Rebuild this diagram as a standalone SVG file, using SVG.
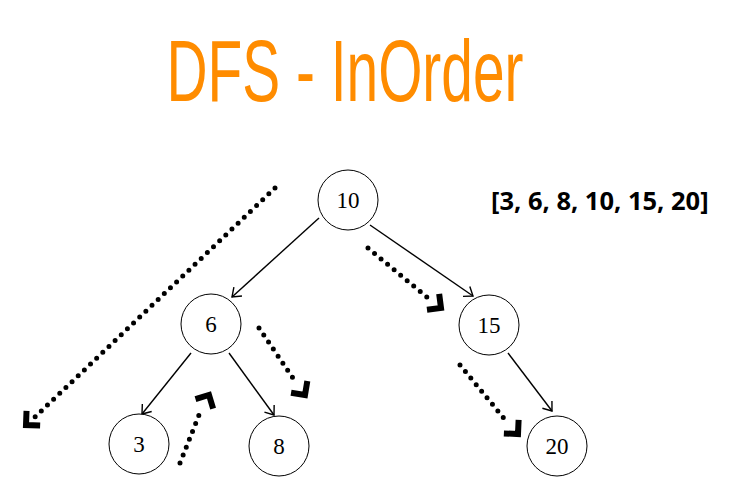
<svg xmlns="http://www.w3.org/2000/svg" width="736" height="486" viewBox="0 0 736 486">
<defs>
<marker id="thin" markerUnits="userSpaceOnUse" markerWidth="20" markerHeight="20" refX="0" refY="0" viewBox="-12 -10 14 20" orient="auto">
<path d="M -8 -6 L 0 0 L -8 6" fill="none" stroke="#000" stroke-width="1.4"/>
</marker>
<marker id="thick" markerUnits="userSpaceOnUse" markerWidth="30" markerHeight="30" refX="0" refY="0" viewBox="-15 -15 30 30" orient="auto">
<path d="M -10 -10 L 0 0 L -10 10" fill="none" stroke="#000" stroke-width="6" stroke-linejoin="miter"/>
</marker>
</defs>
<style>
.node circle{fill:#fff;stroke:#000;stroke-width:1}
.node text{font-family:"Liberation Serif","DejaVu Serif",serif;font-size:23px;fill:#000;text-anchor:middle}
.edge{stroke:#000;stroke-width:1.4;fill:none;marker-end:url(#thin)}
.dot{stroke:#000;stroke-width:5;stroke-dasharray:0 8.5;stroke-linecap:round;fill:none}
.head{marker-end:url(#thick)}
</style>
<rect width="736" height="486" fill="#fff"/>
<text x="0" y="0" transform="translate(345,101) scale(0.646,1)" text-anchor="middle" font-family="'Liberation Sans',sans-serif" font-size="88" fill="#FF8C00">DFS - InOrder</text>
<text x="491" y="210" font-family="'Open Sans',sans-serif" font-weight="bold" font-size="25.5" fill="#000">[3, 6, 8, 10, 15, 20]</text>
<g id="connectors">
<line class="edge" x1="319" y1="218" x2="232" y2="297"/>
<line class="edge" x1="370" y1="225" x2="473" y2="296"/>
<line class="edge" x1="191" y1="353" x2="142" y2="414"/>
<line class="edge" x1="229" y1="353" x2="274" y2="415"/>
<line class="edge" x1="508" y1="353" x2="552" y2="411"/>
<line class="dot" x1="275" y1="188" x2="35" y2="417"/>
<line class="head" x1="40" y1="412" x2="26" y2="425" stroke="none"/>
<line class="dot" x1="368" y1="248" x2="428" y2="298"/>
<line class="head" x1="428" y1="298" x2="441" y2="308" stroke="none"/>
<line class="dot" x1="259" y1="328" x2="295" y2="381"/>
<line class="head" x1="295" y1="381" x2="305" y2="395" stroke="none"/>
<line class="dot" x1="180" y1="463" x2="201" y2="410"/>
<line class="head" x1="201" y1="410" x2="209" y2="395" stroke="none"/>
<line class="dot" x1="460" y1="365" x2="507" y2="422"/>
<line class="head" x1="507" y1="422" x2="518" y2="434" stroke="none"/>
</g>
<g id="n10" class="node"><circle cx="348" cy="200" r="30"/><text x="348" y="208">10</text></g>
<g id="n6" class="node"><circle cx="211" cy="324" r="30"/><text x="211" y="332">6</text></g>
<g id="n15" class="node"><circle cx="489" cy="325" r="30"/><text x="489" y="333">15</text></g>
<g id="n3" class="node"><circle cx="139" cy="444" r="30"/><text x="139" y="452">3</text></g>
<g id="n8" class="node"><circle cx="279" cy="446" r="30"/><text x="279" y="454">8</text></g>
<g id="n20" class="node"><circle cx="557" cy="446" r="30"/><text x="557" y="454">20</text></g>
</svg>
